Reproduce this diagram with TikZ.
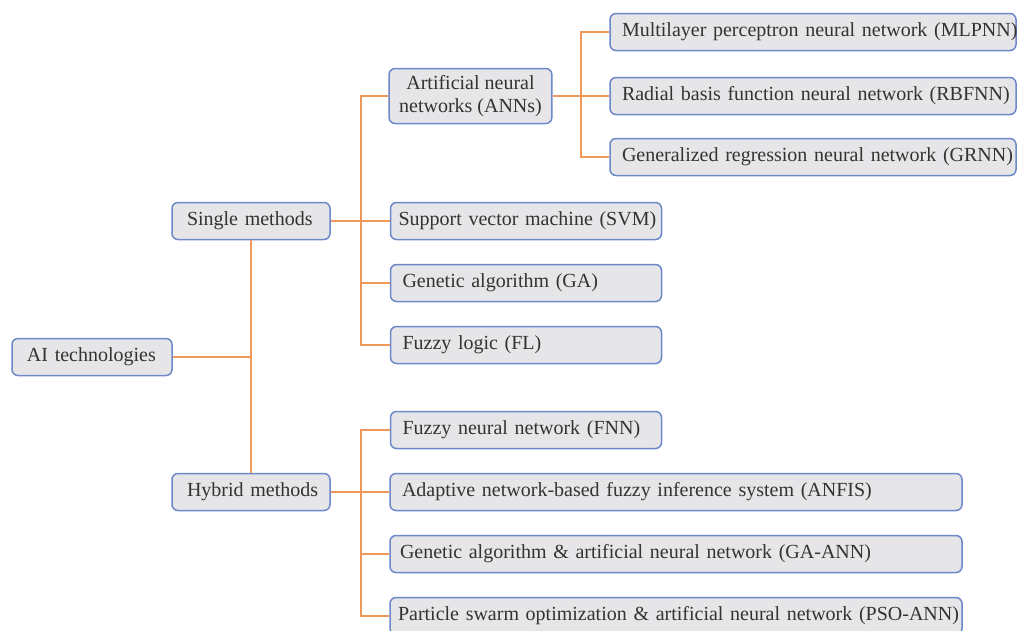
\documentclass[tikz,border=0pt]{standalone}
\usepackage{fontspec}
\setmainfont{Liberation Serif}
\definecolor{boxline}{RGB}{108,136,200}
\definecolor{boxfill}{RGB}{230,230,233}
\definecolor{linkline}{RGB}{240,152,90}
\tikzset{
	item/.style={draw=boxline, fill=boxfill, line width=1.5pt, rounded corners=6pt,
		minimum height=37pt, inner xsep=10pt, inner ysep=0pt, align=left,
		font=\fontsize{20}{23}\selectfont, text=black!80},
	link/.style={draw=linkline, line width=1.4pt},
}

\begin{document}
\begin{tikzpicture}[x=1pt,y=-1pt]
	\useasboundingbox[fill=white] (0,0) rectangle (1018,630);
	% root and the two groups
	\node[item,inner xsep=15pt,text width=130pt] (ai) at (92,357) {\mbox{AI technologies}};
	\node[item,inner xsep=15pt,text width=128pt] (single) at (251,221) {\mbox{Single methods}};
	\node[item,inner xsep=15pt,text width=128pt] (hybrid) at (251,492) {\mbox{Hybrid methods}};
	% single methods
	\node[item,align=center,minimum width=161pt,minimum height=55pt] (ann) at (470.5,96) {Artificial neural\\networks (ANNs)};
	\node[item,inner xsep=8pt,text width=255pt] (svm) at (526,221) {\mbox{Support vector machine (SVM)}};
	\node[item,inner xsep=12pt,text width=247pt] (ga) at (526,283) {Genetic algorithm (GA)};
	\node[item,inner xsep=12pt,text width=247pt] (fl) at (526,345) {Fuzzy logic (FL)};
	% kinds of ANN
	\node[item,inner xsep=12pt,text width=382pt] (mlpnn) at (813,32) {\mbox{Multilayer perceptron neural network (MLPNN)}};
	\node[item,inner xsep=12pt,text width=382pt] (rbfnn) at (813,96) {\mbox{Radial basis function neural network (RBFNN)}};
	\node[item,inner xsep=12pt,text width=382pt] (grnn) at (813,157) {\mbox{Generalized regression neural network (GRNN)}};
	% hybrid methods
	\node[item,inner xsep=12pt,text width=247pt] (fnn) at (526,430) {Fuzzy neural network (FNN)};
	\node[item,inner xsep=12pt,text width=548pt] (anfis) at (676,492) {Adaptive network-based fuzzy inference system (ANFIS)};
	\node[item,text width=552pt] (gaann) at (676,554) {Genetic algorithm \& artificial neural network (GA-ANN)};
	\node[item,inner xsep=8pt,text width=556pt] (psoann) at (676,616) {\mbox{Particle swarm optimization \& artificial neural network (PSO-ANN)}};
	% connectors
	\coordinate (sj) at (361,221);
	\coordinate (hj) at (361,492);
	\coordinate (aj) at (581,96);
	\draw[link] (ai.east) -- (ai.east -| single.south);
	\draw[link] (single.south) -- (hybrid.north);
	\draw[link] (single.east) -- (sj);
	\draw[link] (ann.west) -| (sj) |- (fl.west);
	\draw[link] (sj) -- (svm.west);
	\draw[link] (ga.west) -- (ga.west -| sj);
	\draw[link] (ann.east) -- (aj);
	\draw[link] (mlpnn.west) -| (aj) |- (grnn.west);
	\draw[link] (aj) -- (rbfnn.west);
	\draw[link] (hybrid.east) -- (hj);
	\draw[link] (fnn.west) -| (hj) |- (psoann.west);
	\draw[link] (hj) -- (anfis.west);
	\draw[link] (gaann.west) -- (gaann.west -| hj);
\end{tikzpicture}
\end{document}
